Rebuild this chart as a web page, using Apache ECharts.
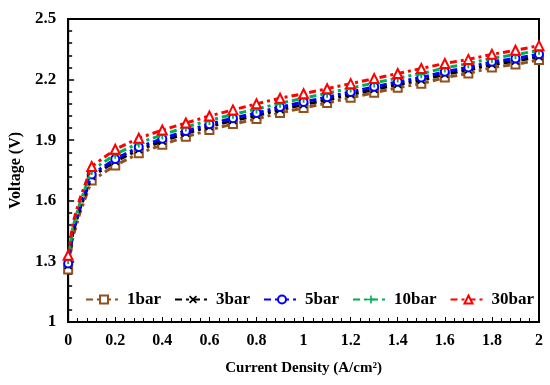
<!DOCTYPE html>
<html>
<head>
<meta charset="utf-8">
<script src="https://cdn.jsdelivr.net/npm/echarts@6/dist/echarts.min.js"></script>
<style>html,body{margin:0;padding:0;background:#fff}#c{width:550px;height:385px}</style>
</head>
<body>
<div id="c"></div>
<script>
// Data
var currentDensity = [0, 0.02, 0.05, 0.1, 0.2, 0.3, 0.4, 0.5, 0.6, 0.7, 0.8, 0.9, 1.0, 1.1, 1.2, 1.3, 1.4, 1.5, 1.6, 1.7, 1.8, 1.9, 2.0];
var markerShown = [true, false, false, true, true, true, true, true, true, true, true, true, true, true, true, true, true, true, true, true, true, true, true];
var v1bar  = [1.26, 1.42, 1.54, 1.70, 1.775, 1.835, 1.877, 1.917, 1.95, 1.98, 2.005, 2.035, 2.06, 2.084, 2.11, 2.135, 2.16, 2.18, 2.21, 2.23, 2.26, 2.275, 2.297];
var v3bar  = [1.28, 1.44, 1.56, 1.72, 1.795, 1.853, 1.895, 1.934, 1.967, 1.997, 2.022, 2.051, 2.076, 2.10, 2.126, 2.151, 2.176, 2.197, 2.226, 2.247, 2.275, 2.291, 2.313];
var v5bar  = [1.29, 1.45, 1.57, 1.73, 1.807, 1.866, 1.907, 1.946, 1.979, 2.009, 2.035, 2.064, 2.089, 2.113, 2.139, 2.164, 2.189, 2.21, 2.239, 2.26, 2.288, 2.304, 2.326];
var v10bar = [1.31, 1.47, 1.59, 1.75, 1.83, 1.886, 1.926, 1.965, 1.998, 2.028, 2.054, 2.083, 2.108, 2.132, 2.158, 2.183, 2.208, 2.229, 2.258, 2.279, 2.306, 2.323, 2.345];
var v30bar = [1.33, 1.49, 1.61, 1.77, 1.855, 1.91, 1.95, 1.985, 2.02, 2.05, 2.08, 2.108, 2.13, 2.155, 2.18, 2.205, 2.23, 2.255, 2.28, 2.30, 2.325, 2.345, 2.368];
var seriesNames = ['1bar', '3bar', '5bar', '10bar', '30bar'];
var yTickLabels = [1, 1.3, 1.6, 1.9, 2.2, 2.5];
var yMinorTicks = [1.06, 1.12, 1.18, 1.24, 1.36, 1.42, 1.48, 1.54, 1.66, 1.72, 1.78, 1.84, 1.96, 2.02, 2.08, 2.14, 2.26, 2.32, 2.38, 2.44];

var FONT = '"Liberation Serif", "Times New Roman", serif';
var colors = ['#93501f', '#000000', '#0000ff', '#00b050', '#ff0000'];
var crossX = 'path://M1.5,0L5,3.5L8.5,0L10,1.5L6.5,5L10,8.5L8.5,10L5,6.5L1.5,10L0,8.5L3.5,5L0,1.5Z';
var plusP = 'path://M4,0H6V4H10V6H6V10H4V6H0V4H4Z';
var symbols = ['rect', crossX, 'circle', plusP, 'triangle'];
var symSizes = [8, 8, 8, 9, 9];
var hollow = [true, false, true, false, true];
var values = [v1bar, v3bar, v5bar, v10bar, v30bar];

function buildData(vals) {
  return currentDensity.map(function (x, i) {
    var d = { value: [x, vals[i]] };
    if (!markerShown[i]) d.symbol = 'none';
    return d;
  });
}

var series = seriesNames.map(function (n, k) {
  return {
    name: n,
    type: 'line',
    data: buildData(values[k]),
    symbol: symbols[k],
    symbolSize: symSizes[k],
    showAllSymbol: true,
    lineStyle: { color: colors[k], width: 3, type: [7, 4, 3, 4] },
    itemStyle: hollow[k]
      ? { color: '#ffffff', borderColor: colors[k], borderWidth: 2 }
      : { color: colors[k], borderColor: colors[k], borderWidth: 0 },
    z: 2 + k,
    animation: false
  };
});

var chart = echarts.init(document.getElementById('c'), null, { renderer: 'canvas' });
chart.setOption({
  backgroundColor: '#ffffff',
  animation: false,
  grid: { left: 65, right: 11, top: 19, bottom: 63, show: true, borderColor: '#000', borderWidth: 2, backgroundColor: 'transparent' },
  legend: {
    data: seriesNames,
    left: 80, top: 286,
    itemWidth: 36, itemHeight: 10, itemGap: 13,
    textStyle: { fontFamily: FONT, fontWeight: 'bold', fontSize: 17, color: '#000' }
  },
  xAxis: {
    type: 'value', min: 0, max: 2, interval: 0.2,
    name: 'Current Density (A/cm²)', nameLocation: 'middle', nameGap: 39,
    nameTextStyle: { fontFamily: FONT, fontWeight: 'bold', fontSize: 15, color: '#000' },
    axisLine: { lineStyle: { color: '#000', width: 2 } },
    axisTick: { inside: true, length: 5, lineStyle: { color: '#000', width: 1 } },
    minorTick: { show: true, splitNumber: 5, length: 4, lineStyle: { color: '#000', width: 1 } },
    splitLine: { show: false },
    axisLabel: { fontFamily: FONT, fontWeight: 'bold', fontSize: 16, color: '#000', margin: 11 }
  },
  yAxis: [{
    type: 'value', min: 1, max: 2.5,
    name: 'Voltage (V)', nameLocation: 'middle', nameGap: 39, nameRotate: 90,
    nameTextStyle: { fontFamily: FONT, fontWeight: 'bold', fontSize: 16, color: '#000' },
    axisLine: { lineStyle: { color: '#000', width: 2 } },
    axisTick: { inside: true, length: 6, customValues: yTickLabels, lineStyle: { color: '#000', width: 1.5 } },
    splitLine: { show: false },
    axisLabel: { customValues: yTickLabels, fontFamily: FONT, fontWeight: 'bold', fontSize: 17, color: '#000', margin: 12 }
  }, {
    type: 'value', min: 1, max: 2.5, position: 'left', offset: 0,
    axisLine: { show: false },
    axisTick: { inside: true, length: 4, customValues: yMinorTicks, lineStyle: { color: '#000', width: 1.5 } },
    axisLabel: { show: false, customValues: yMinorTicks },
    splitLine: { show: false }
  }],
  series: series
});
</script>
</body>
</html>
